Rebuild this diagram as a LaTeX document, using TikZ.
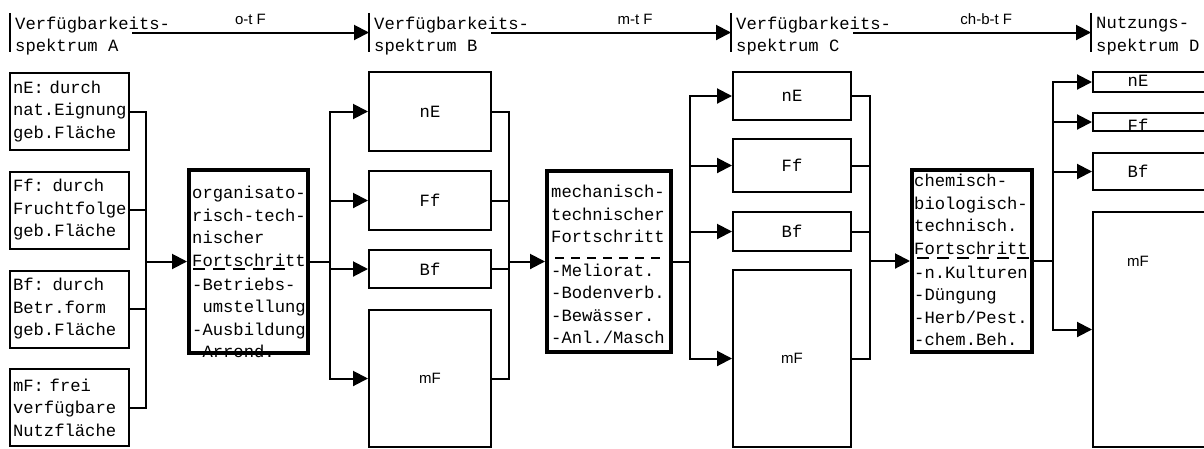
\documentclass[tikz,border=0pt]{standalone}
\usepackage{fontspec}
\setmonofont{Liberation Mono}
\newfontfamily\kleinfont{Liberation Sans}
\usetikzlibrary{arrows.meta,positioning}

\tikzset{
    linie/.style={line width=2pt},
    pfeil/.style={linie, -{Triangle[length=15pt,width=15pt]}},
    feld/.style={draw, line width=2pt, inner sep=0pt},
    dickfeld/.style={draw, line width=4pt, inner sep=0pt},
    mono/.style={font=\fontsize{17.2}{22.5}\selectfont\ttfamily, inner sep=0pt},
    klein/.style={font=\fontsize{15}{17}\selectfont\kleinfont, inner sep=0pt},
    kopf/.style={mono, align=left, anchor=west, minimum height=39pt, inner xsep=5pt},
    spalteA/.style={feld, mono, align=left, text width=113pt, inner xsep=3pt, minimum height=77pt},
    trenn/.style={line width=2pt, dash pattern=on 12pt off 8pt},
}

\begin{document}
\begin{tikzpicture}[x=1pt, y=-1pt]
            \useasboundingbox (0,0) rectangle (1204,448);
            \fill[white] (0,0) rectangle (1204,448);
            \clip (0,0) rectangle (1204,448);

            % Kopfzeile
            \node[kopf] (hdrA) at (10,36) {Verfügbarkeits-\\spektrum A};
            \node[kopf] (hdrB) at (369,36) {Verfügbarkeits-\\spektrum B};
            \node[kopf] (hdrC) at (731,36) {Verfügbarkeits-\\spektrum C};
            \node[kopf] (hdrD) at (1091,36) {Nutzungs-\\spektrum D};
            \foreach \h in {hdrA,hdrB,hdrC,hdrD}
                \draw[linie] ([yshift=3.5pt]\h.north west) -- ([yshift=3.5pt]\h.south west);

            \draw[pfeil] ([xshift=122pt,yshift=3.5pt]hdrA.west) -- ([yshift=3.5pt]hdrB.west) node[klein, pos=0.5, above=7pt] {o-t F};
            \draw[pfeil] ([xshift=122pt,yshift=3.5pt]hdrB.west) -- ([yshift=3.5pt]hdrC.west) node[klein, pos=0.6, above=7pt] {m-t F};
            \draw[pfeil] ([xshift=122pt,yshift=3.5pt]hdrC.west) -- ([yshift=3.5pt]hdrD.west) node[klein, pos=0.56, above=7pt] {ch-b-t F};

            % Spektrum A
            \node[spalteA] (anE) at (69.5,111.5) {nE: durch\\nat.Eignung\\geb.Fläche};
            \node[spalteA] (aFf) at (69.5,210) {Ff: durch\\Fruchtfolge\\geb.Fläche};
            \node[spalteA] (aBf) at (69.5,309) {Bf: durch\\Betr.form\\geb.Fläche};
            \node[spalteA] (amF) at (69.5,407.5) {mF: frei\\verfügbare\\Nutzfläche};

            % Fortschritt
            \node[dickfeld, minimum width=119pt, minimum height=183pt] (org) at (248.5,261.5) {};
            \node[dickfeld, minimum width=124pt, minimum height=181pt] (mech) at (609,261.5) {};
            \node[dickfeld, minimum width=120pt, minimum height=182pt] (chem) at (972,261) {};

            \node[mono, align=left, anchor=north west] (orgtxt) at (192,186)
                {organisato-\\risch-tech-\\nischer\\Fortschritt\\[1.5pt]-Betriebs-\\\phantom{-}umstellung\\-Ausbildung\\-Arrond.};
            \node[mono, align=left, anchor=north west] (mechtxt) at (551,185)
                {mechanisch-\\technischer\\Fortschritt\\[11pt]-Meliorat.\\-Bodenverb.\\-Bewässer.\\-Anl./Masch};
            \node[mono, align=left, anchor=north west] (chemtxt) at (914,174)
                {chemisch-\\biologisch-\\technisch.\\Fortschritt\\[1.5pt]-n.Kulturen\\-Düngung\\-Herb/Pest.\\-chem.Beh.};

            \draw[trenn] (193,269) -- (292,269);
            \draw[trenn, dash pattern=on 9pt off 7pt] (555,258) -- (660,258);
            \draw[trenn] (917,258) -- (1029,258);

            % Spektrum B
            \node[feld, mono, minimum width=122pt, minimum height=79pt] (bnE) at (430,111.5) {nE};
            \node[feld, mono, minimum width=122pt, minimum height=59pt] (bFf) at (430,200.5) {Ff};
            \node[feld, mono, minimum width=122pt, minimum height=38pt] (bBf) at (430,269) {Bf};
            \node[feld, klein, minimum width=122pt, minimum height=137pt] (bmF) at (430,378.5) {mF};

            % Spektrum C
            \node[feld, mono, minimum width=118pt, minimum height=48pt] (cnE) at (792,96) {nE};
            \node[feld, mono, minimum width=118pt, minimum height=53pt] (cFf) at (792,165.5) {Ff};
            \node[feld, mono, minimum width=118pt, minimum height=39pt] (cBf) at (792,231.5) {Bf};
            \node[feld, klein, minimum width=118pt, minimum height=177pt] (cmF) at (792,358.5) {mF};

            % Spektrum D
            \node[feld, minimum width=132pt, minimum height=20pt] (dnE) at (1159,82) {};
            \node[feld, minimum width=132pt, minimum height=18pt] (dFf) at (1159,122) {};
            \node[feld, minimum width=132pt, minimum height=37pt] (dBf) at (1159,171.5) {};
            \node[feld, minimum width=132pt, minimum height=235pt] (dmF) at (1159,329.5) {};
            \node[mono] (dnEt) at (1138,81) {nE};
            \node[mono] (dFft) at (1138,125) {Ff};
            \node[mono] (dBft) at (1138,171) {Bf};
            \node[klein] (dmFt) at (1138,261) {mF};

            % A -> organisatorisch-technischer Fortschritt
            \coordinate[left=41pt of org.west] (jA);
            \draw[linie] (anE.east) -| (jA);
            \draw[linie] (aFf.east) -| (jA);
            \draw[linie] (aBf.east) -| (jA);
            \draw[linie] (amF.east) -| (jA);
            \draw[pfeil] (jA) -- (org.west);

            % -> B
            \coordinate[right=20pt of org.east] (sB);
            \draw[linie] (org.east) -- (sB);
            \draw[pfeil] (sB) |- (bnE.west);
            \draw[pfeil] (sB) |- (bFf.west);
            \draw[pfeil] (sB) |- (bBf.west);
            \draw[pfeil] (sB) |- (bmF.west);

            % B -> mechanisch-technischer Fortschritt
            \coordinate[left=36pt of mech.west] (jB);
            \draw[linie] (bnE.east) -| (jB);
            \draw[linie] (bFf.east) -| (jB);
            \draw[linie] (bBf.east) -| (jB);
            \draw[linie] (bmF.east) -| (jB);
            \draw[pfeil] (jB) -- (mech.west);

            % -> C
            \coordinate[right=17pt of mech.east] (sC);
            \draw[linie] (mech.east) -- (sC);
            \draw[pfeil] (sC) |- (cnE.west);
            \draw[pfeil] (sC) |- (cFf.west);
            \draw[pfeil] (sC) |- (cBf.west);
            \draw[pfeil] (sC) |- (cmF.west);

            % C -> chemisch-biologisch-technischer Fortschritt
            \coordinate[left=40pt of chem.west] (jC);
            \draw[linie] (cnE.east) -| (jC);
            \draw[linie] (cFf.east) -| (jC);
            \draw[linie] (cBf.east) -| (jC);
            \draw[linie] (cmF.east) -| (jC);
            \draw[pfeil] (jC) -- (chem.west);

            % -> D
            \coordinate[right=19pt of chem.east] (sD);
            \draw[linie] (chem.east) -- (sD);
            \draw[pfeil] (sD) |- (dnE.west);
            \draw[pfeil] (sD) |- (dFf.west);
            \draw[pfeil] (sD) |- (dBf.west);
            \draw[pfeil] (sD) |- (dmF.west);
        \end{tikzpicture}
\end{document}
